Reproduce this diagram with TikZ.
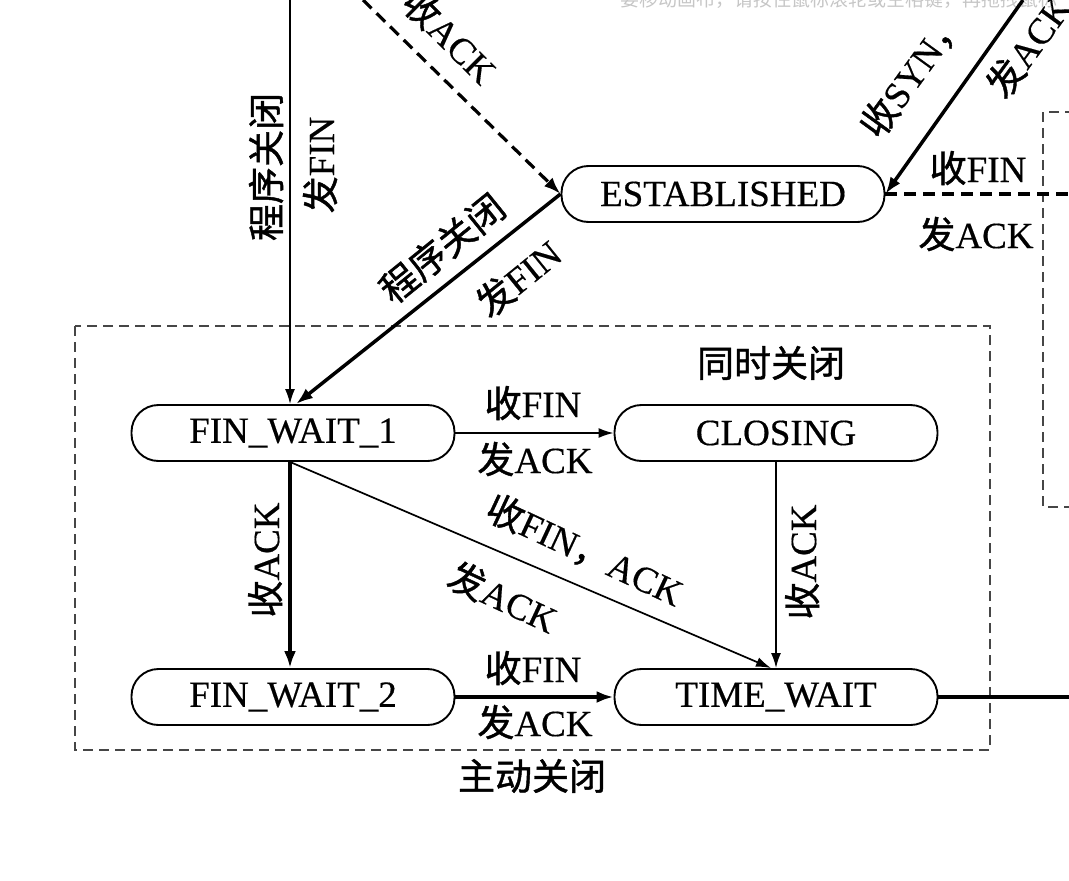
\documentclass[tikz,border=0pt]{standalone}
\usepackage{fontspec}
\setmainfont{Liberation Serif}[FakeBold=0.4]
\newfontfamily\cjk{Noto Sans CJK SC}[FakeBold=1.2]
\newfontfamily\cjkhint{Noto Sans CJK SC}
\newcommand\zhs[1]{{\cjk #1}}
\usetikzlibrary{arrows.meta}
\begin{document}
\begin{tikzpicture}[x=1pt,y=-1pt,
  state/.style={draw, line width=1.9pt, rounded corners=27pt, minimum width=323pt, minimum height=56pt, inner sep=0pt, font=\fontsize{37}{40}\selectfont},
  lbl/.style={inner sep=0pt, font=\fontsize{37}{40}\selectfont},
  thinarr/.style={line width=1.7pt, -{Latex[length=15pt,width=10pt]}},
  thickarr/.style={line width=3.5pt, -{Latex[length=17pt,width=12pt]}},
  thickln/.style={line width=3.5pt},
  dasharr/.style={line width=3.2pt, dash pattern=on 12pt off 7pt, -{Latex[length=17pt,width=12pt]}},
  dashln/.style={line width=3.2pt, dash pattern=on 12pt off 7pt},
  boxdash/.style={line width=2.2pt, dash pattern=on 10pt off 6pt, gray!55!black}
]
\useasboundingbox (0,0) rectangle (1069,881);
\clip (0,0) rectangle (1069,881);

\node[anchor=base west, text=gray!45, inner sep=0pt, font=\cjkhint\fontsize{19}{20}\selectfont] (hint) at (620,6) {要移动画布，请按住鼠标滚轮或空格键，再拖拽鼠标};

% dashed regions
\draw[boxdash] (75,326) rectangle (990,750);
\draw[boxdash] (1075,112) -- (1043,112) -- (1043,507) -- (1075,507);

% states
\node[state] (est) at (723,194) {ESTABLISHED};
\node[state] (fw1) at (293,433) {FIN\_WAIT\_1};
\node[state] (cl) at (776,433) {CLOSING};
\node[state] (fw2) at (293,697) {FIN\_WAIT\_2};
\node[state] (tw) at (776,697) {TIME\_WAIT};

% free ends
\coordinate (inA) at (290,0);
\coordinate (inB) at (363,0);
\coordinate (inC) at (1023,0);
\coordinate (outD) at (1069,194);
\coordinate (outE) at (1069,697);

% connectors
\draw[thinarr] (inA) -- (inA |- fw1.north);
\draw[dasharr] (inB) -- (est.west);
\draw[thickarr] (est.west) -- ([xshift=3pt]fw1.north);
\draw[thickarr] (inC) -- (est.east);
\draw[dashln] (est.east) -- (outD);
\draw[thinarr] (fw1.east) -- (cl.west);
\draw[thinarr] (cl.south) -- (tw.north);
\draw[thickarr] ([xshift=-3pt]fw1.south) -- ([xshift=-3pt]fw2.north);
\draw[thinarr] ([xshift=-3pt]fw1.south) -- ([xshift=-5pt]tw.north);
\draw[thickarr] (fw2.east) -- (tw.west);
\draw[thickln] (tw.east) -- (outE);

% labels
\node[lbl, rotate=90] (l1) at (266,167) {\zhs{程序关闭}};
\node[lbl, rotate=90] (l2) at (320,165) {\zhs{发}FIN};
\node[lbl, rotate=-45] (l3) at (450,36) {\zhs{收}ACK};
\node[lbl, rotate=39] (l4) at (442,248) {\zhs{程序关闭}};
\node[lbl, rotate=39] (l5) at (518,278) {\zhs{发}FIN};
\node[lbl, rotate=54] (l6) at (912,73) {\zhs{收}SYN\zhs{，}};
\node[lbl, rotate=54] (l7) at (1028,46) {\zhs{发}ACK};
\node[lbl] (l8) at (978,168) {\zhs{收}FIN};
\node[lbl] (l9) at (976,234) {\zhs{发}ACK};
\node[lbl] (l10) at (771,363) {\zhs{同时关闭}};
\node[lbl] (l11) at (533,403) {\zhs{收}FIN};
\node[lbl] (l12) at (535,459) {\zhs{发}ACK};
\node[lbl, rotate=90] (l13) at (265,560) {\zhs{收}ACK};
\node[lbl, rotate=90] (l14) at (802,562) {\zhs{收}ACK};
\node[lbl, rotate=-25] (l15) at (585,550) {\zhs{收}FIN\zhs{，}ACK};
\node[lbl, rotate=-25] (l16) at (503,597) {\zhs{发}ACK};
\node[lbl] (l17) at (533,668) {\zhs{收}FIN};
\node[lbl] (l18) at (535,722) {\zhs{发}ACK};
\node[lbl] (l19) at (532,776) {\zhs{主动关闭}};
\end{tikzpicture}
\end{document}
